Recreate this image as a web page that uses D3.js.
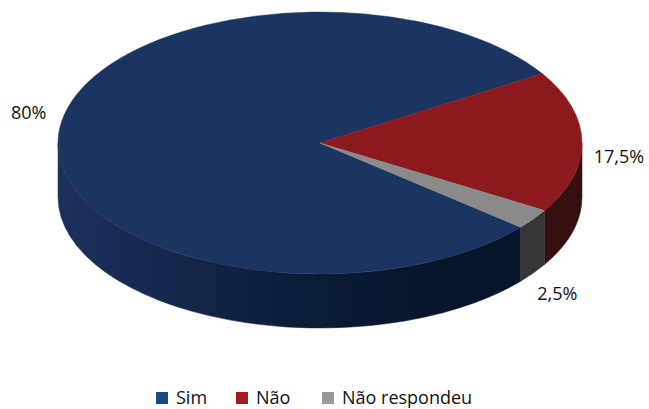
<!DOCTYPE html>
<html>
<head>
<meta charset="utf-8">
<script src="https://cdn.jsdelivr.net/npm/d3@7"></script>
<style>
  html, body { margin: 0; padding: 0; background: #fff; }
  svg { display: block; font-family: "Open Sans", "Noto Sans", sans-serif; }
</style>
</head>
<body>
<svg id="chart" width="649" height="409"></svg>
<script>
// Survey answers and their shares (percent)
const categories = ["Sim", "Não", "Não respondeu"];
const values = [80, 17.5, 2.5];
const valueLabels = ["80%", "17,5%", "2,5%"];

// Colours: top face, side wall (light end / dark end), legend swatch
const topColors = ["#1b3560", "#8c191d", "#8a8a8a"];
const sideLight = ["#1c305c", "#3d1414", "#3a3a3a"];
const sideDark = ["#06152a", "#361010", "#353535"];
const legendColors = ["#1a4a80", "#a41c22", "#999999"];

// Ellipse geometry of the tilted disc
const cx = 320, cy = 143, rx = 262, ry = 131, depth = 54;
const startDeg = 130;

const svg = d3.select("#chart");
const defs = svg.append("defs");

const pie = d3.pie().sort(null).value(d => d)
  .startAngle(startDeg * Math.PI / 180)
  .endAngle((startDeg + 360) * Math.PI / 180);
const arcs = pie(values);

// point on the top ellipse for a d3 angle (clockwise from 12 o'clock)
const pt = (a, dz = 0) => [cx + rx * Math.sin(a), cy - ry * Math.cos(a) + dz];

// gradient for each slice's side wall
categories.forEach((c, i) => {
  const g = defs.append("linearGradient")
    .attr("id", "side" + i).attr("gradientUnits", "userSpaceOnUse")
    .attr("x1", cx - rx).attr("x2", cx + rx).attr("y1", 0).attr("y2", 0);
  const mix = d3.interpolateRgb(sideLight[i], sideDark[i]);
  g.append("stop").attr("offset", 0).attr("stop-color", sideLight[i]);
  g.append("stop").attr("offset", 0.2).attr("stop-color", mix(0.3));
  g.append("stop").attr("offset", 0.55).attr("stop-color", mix(0.85));
  g.append("stop").attr("offset", 0.75).attr("stop-color", sideDark[i]);
  g.append("stop").attr("offset", 1).attr("stop-color", sideDark[i]);
});

// side walls: only the front half (angles between 90° and 270°) is visible
const sideLayer = svg.append("g");
const PI = Math.PI;
arcs.forEach((d, i) => {
  [-2 * PI, 0, 2 * PI].forEach(shift => {
    const a1 = Math.max(d.startAngle + shift, PI / 2);
    const a2 = Math.min(d.endAngle + shift, 3 * PI / 2);
    if (a2 <= a1) return;
    const t1 = pt(a1), t2 = pt(a2), b1 = pt(a1, depth), b2 = pt(a2, depth);
    const large = (a2 - a1) > PI ? 1 : 0;
    const dstr = `M${t1[0]},${t1[1]} A${rx},${ry} 0 ${large} 1 ${t2[0]},${t2[1]} ` +
      `L${b2[0]},${b2[1]} A${rx},${ry} 0 ${large} 0 ${b1[0]},${b1[1]} Z`;
    sideLayer.append("path").attr("d", dstr)
      .attr("fill", `url(#side${i})`)
      .attr("stroke", `url(#side${i})`).attr("stroke-width", 0.5);
  });
});

// top face: circular arcs squashed into the ellipse
const arcGen = d3.arc().innerRadius(0).outerRadius(rx);
const topLayer = svg.append("g")
  .attr("transform", `translate(${cx},${cy}) scale(1,${ry / rx})`);
topLayer.selectAll("path").data(arcs).join("path")
  .attr("d", arcGen)
  .attr("fill", (d, i) => topColors[i])
  .attr("stroke", (d, i) => topColors[i]).attr("stroke-width", 0.6);

// value labels placed relative to each slice's mid-angle
const labelShift = [[-30, -15], [37, 21], [24, 81]];
svg.append("g").selectAll("text").data(arcs).join("text")
  .attr("x", (d, i) => pt((d.startAngle + d.endAngle) / 2)[0] + labelShift[i][0])
  .attr("y", (d, i) => pt((d.startAngle + d.endAngle) / 2)[1] + labelShift[i][1])
  .attr("text-anchor", "middle")
  .attr("font-size", 18).attr("fill", "#111")
  .text((d, i) => valueLabels[i]);

// legend
const legendX = d3.scaleOrdinal().domain(categories).range([156, 236, 322]);
const legend = svg.append("g").selectAll("g").data(categories).join("g")
  .attr("transform", d => `translate(${legendX(d)},392)`);
legend.append("rect").attr("width", 12).attr("height", 12)
  .attr("fill", (d, i) => legendColors[i]);
legend.append("text").attr("x", 20).attr("y", 12)
  .attr("font-size", 18).attr("fill", "#111").text(d => d);
</script>
</body>
</html>
